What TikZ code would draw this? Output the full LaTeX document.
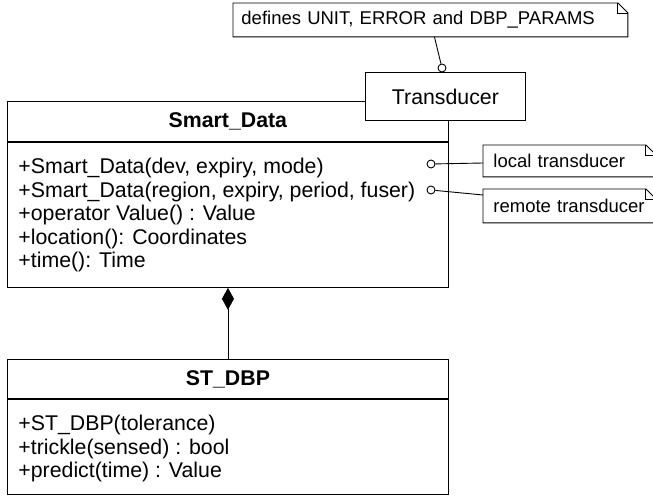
\documentclass[tikz,border=0pt]{standalone}
\usepackage{fontspec}
\setmainfont{Liberation Sans}
\usetikzlibrary{arrows.meta,positioning}
\newcommand{\classfont}{\fontsize{21.3}{23.5}\selectfont}
\newcommand{\notefont}{\fontsize{18.5}{20}\selectfont}
% note outline with the folded corner
\newcommand{\drawnote}[1]{%
  \draw (#1.north west) -- ([xshift=-10pt]#1.north east) -- ([yshift=-10pt]#1.north east)
    -- (#1.south east) -- (#1.south west) -- cycle;
  \draw ([xshift=-10pt]#1.north east) |- ([yshift=-10pt]#1.north east);}

\begin{document}
\begin{tikzpicture}[x=1pt,y=-1pt,line width=0.9pt,>=Stealth,
  box/.style={draw,rectangle,anchor=north west,inner sep=0pt,font=\classfont},
  members/.style={anchor=north west,align=left,inner sep=0pt,font=\classfont},
  notetext/.style={anchor=north west,inner xsep=10pt,inner ysep=0pt,align=left,font=\notefont},
  port/.style={circle,draw,fill=white,inner sep=0pt,minimum size=8pt}]
  \useasboundingbox (0,0) rectangle (653,497);

  % Smart_Data class
  \node[box,minimum width=441pt,minimum height=40pt] (sdhead) at (7,101) {\textbf{Smart\_Data}};
  \node[box,minimum width=441pt,minimum height=145pt] (sdbody) at (sdhead.south west) {};
  \node[members] (sdops) at (18,158) {+Smart\_Data(dev, expiry, mode)\\
    +Smart\_Data(region, expiry, period, fuser)\\
    +operator Value() : Value\\
    +location(): Coordinates\\
    +time(): Time};

  % template parameter
  \node[box,fill=white,minimum width=160pt,minimum height=48pt] (trans) at (365,72) {Transducer};

  % ST_DBP class
  \node[box,minimum width=441pt,minimum height=39pt] (sthead) at (7,359) {\textbf{ST\_DBP}};
  \node[box,minimum width=441pt,minimum height=95pt] (stbody) at (sthead.south west) {};
  \node[members] (stops) at (18,415) {+ST\_DBP(tolerance)\\
    +trickle(sensed) : bool\\
    +predict(time) : Value};

  % notes
  \node[notetext,inner xsep=8pt,text width=378pt,minimum height=33pt] (tnote) at (233,3)
    {defines UNIT, ERROR and DBP\_PARAMS};
  \node[notetext,text width=152pt,minimum height=31pt] (lnote) at (483,145) {local transducer};
  \node[notetext,text width=152pt,minimum height=33pt] (rnote) at (483,189) {remote transducer};
  \drawnote{tnote}
  \drawnote{lnote}
  \drawnote{rnote}

  % anchors of the notes
  \node[port] (ptrans) at (442,68) {};
  \node[port] (pdev) at (431,164) {};
  \node[port] (preg) at (431,190) {};
  \draw ([xshift=4pt]tnote.south) -- (ptrans);
  \draw (pdev) -- ([yshift=-18pt]lnote.north west);
  \draw (preg) -- ([yshift=-6pt]rnote.north west);

  % composition
  \draw[-{Diamond[length=22pt,width=12pt]}] (sthead.north) -- (sdbody.south);
\end{tikzpicture}
\end{document}
